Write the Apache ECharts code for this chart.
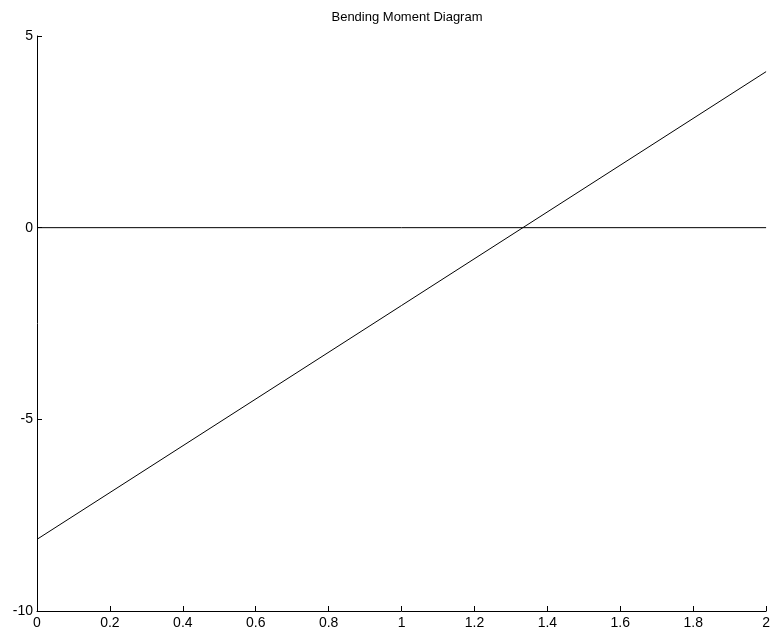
<!DOCTYPE html>
<html>
<head>
<meta charset="utf-8">
<script src="https://cdn.jsdelivr.net/npm/echarts@6/dist/echarts.min.js"></script>
<style>html,body{margin:0;padding:0;background:#fff}#c{width:773px;height:637px}</style>
</head>
<body>
<div id="c"></div>
<script>
var titleText = "Bending Moment Diagram";
var momentX = [0, 2];
var momentY = [-8.13, 4.07];
var zeroX = [0, 2];
var zeroY = [0, 0];
var xTicks = [0, 0.2, 0.4, 0.6, 0.8, 1, 1.2, 1.4, 1.6, 1.8, 2];
var yTicks = [-10, -5, 0, 5];

function pairs(xs, ys) { return xs.map(function (x, i) { return [x, ys[i]]; }); }

var chart = echarts.init(document.getElementById('c'), null, {renderer: 'canvas'});
chart.setOption({
  animation: false,
  backgroundColor: '#ffffff',
  title: {
    text: titleText, left: 402, top: 6, textAlign: 'center',
    textStyle: {fontFamily: 'Liberation Sans, Arial, sans-serif', fontSize: 13, fontWeight: 'normal', color: '#000'}
  },
  grid: {left: 37, right: 6, top: 36, bottom: 26, containLabel: false},
  xAxis: {
    type: 'value', min: xTicks[0], max: xTicks[xTicks.length - 1], interval: 0.2,
    axisLine: {onZero: false, lineStyle: {color: '#000', width: 1}},
    axisTick: {inside: true, length: 5, lineStyle: {color: '#000'}},
    splitLine: {show: false},
    axisLabel: {color: '#000', fontSize: 14, fontFamily: 'Liberation Sans, Arial, sans-serif', margin: 5,
      formatter: function (v) { return String(Math.round(v * 10) / 10); }}
  },
  yAxis: {
    type: 'value', min: yTicks[0], max: yTicks[yTicks.length - 1], interval: 5,
    axisLine: {onZero: false, lineStyle: {color: '#000', width: 1}},
    axisTick: {inside: true, length: 5, lineStyle: {color: '#000'}},
    splitLine: {show: false},
    axisLabel: {color: '#000', fontSize: 14, fontFamily: 'Liberation Sans, Arial, sans-serif', margin: 4}
  },
  series: [
    {type: 'line', data: pairs(zeroX, zeroY), symbol: 'none', lineStyle: {color: '#000', width: 1}, silent: true},
    {type: 'line', data: pairs(momentX, momentY), symbol: 'none', lineStyle: {color: '#000', width: 1}, silent: true}
  ]
});
</script>
</body>
</html>
